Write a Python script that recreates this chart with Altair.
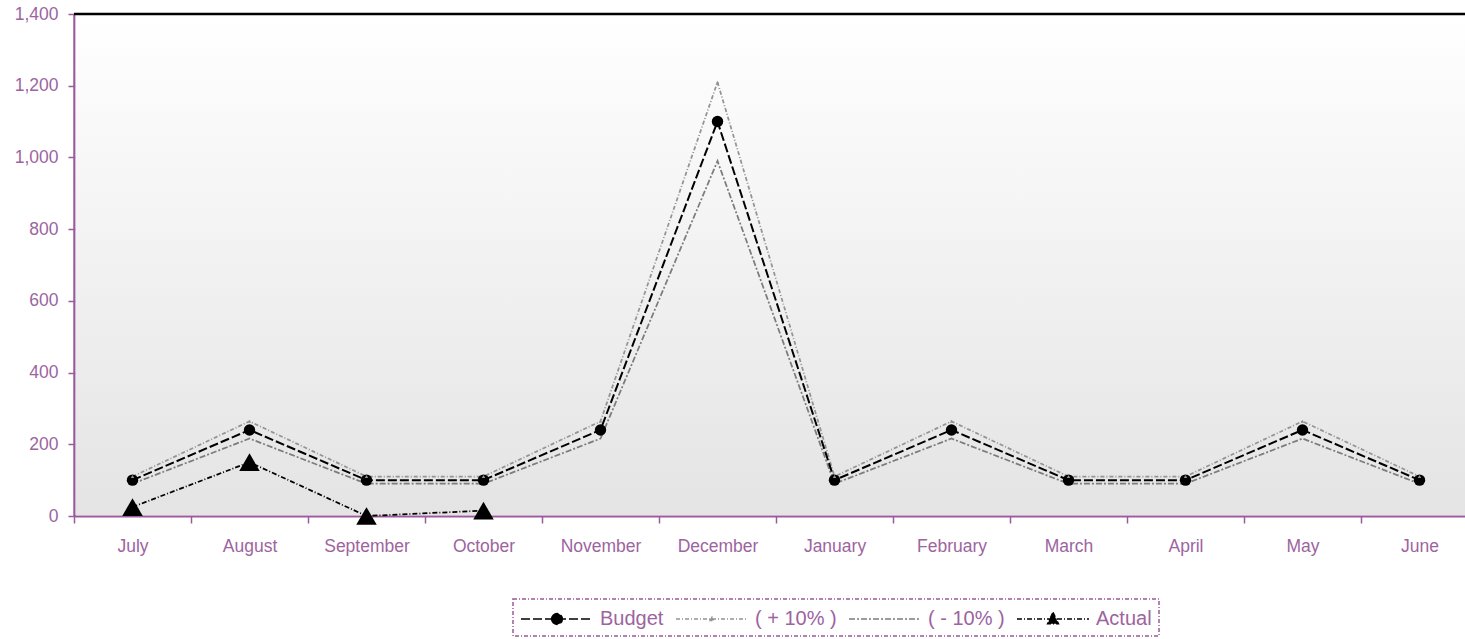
import altair as alt
import pandas as pd

months = ["July", "August", "September", "October", "November", "December",
          "January", "February", "March", "April", "May", "June"]
budget = [100, 240, 100, 100, 240, 1100, 100, 240, 100, 100, 240, 100]
plus10 = [110, 264, 110, 110, 264, 1210, 110, 264, 110, 110, 264, 110]
minus10 = [90, 216, 90, 90, 216, 990, 90, 216, 90, 90, 216, 90]
actual_months = ["July", "August", "September", "October"]
actual = [25, 150, 0, 15]

series_names = ["Budget", "( + 10% )", "( - 10% )", "Actual"]
series_colors = ["#000000", "#949494", "#7c7c7c", "#000000"]
series_dash = [[9, 3], [4, 2, 1, 2], [6, 2, 2, 2], [5, 2, 1, 2]]
series_width = [2, 1.75, 1.75, 1.75]

PURPLE = "#9b5a9b"
LABEL = "#9d64a0"
W, H = 1391, 502

rows = []
for name, vals, ms in [("Budget", budget, months), ("( + 10% )", plus10, months),
                       ("( - 10% )", minus10, months), ("Actual", actual, actual_months)]:
    for m, v in zip(ms, vals):
        rows.append({"month": m, "value": v, "series": name})
df = pd.DataFrame(rows)

xenc = alt.X("month:N", sort=months, scale=alt.Scale(range=[0, 1404]),
             axis=alt.Axis(title=None, labelAngle=0, domainColor=PURPLE, domainWidth=2,
                           tickColor=PURPLE, tickWidth=1.5, tickSize=7, tickBand="extent",
                           labelColor=LABEL, labelFontSize=17.5, labelFont="Arial",
                           labelPadding=14, grid=False, zindex=0))
yenc = alt.Y("value:Q", scale=alt.Scale(domain=[0, 1400], nice=False),
             axis=alt.Axis(title=None, values=list(range(0, 1401, 200)), format=",.0f",
                           domainColor=PURPLE, domainWidth=2.5, tickColor=PURPLE, tickSize=6,
                           tickWidth=1.5, labelColor=LABEL, labelFontSize=17.5, labelFont="Arial",
                           labelPadding=10, grid=True, gridColor=PURPLE, gridWidth=1, zindex=0))

bg = alt.Chart(pd.DataFrame({"a": [0]})).mark_rect(
    color=alt.Gradient(gradient="linear", x1=0, x2=0, y1=0, y2=1,
                       stops=[alt.GradientStop(color="#ffffff", offset=0),
                              alt.GradientStop(color="#e4e4e4", offset=1)])
).encode(x=alt.value(1.5), x2=alt.value(W), y=alt.value(0), y2=alt.value(H - 1))

base = alt.Chart(df)
layers = [bg]
axis_layer = base.mark_line(opacity=0).encode(x=xenc, y=yenc)
layers.append(axis_layer)

top_rule = alt.Chart(pd.DataFrame({"v": [1400]})).mark_rule(color="black", strokeWidth=2.5).encode(
    y=alt.Y("v:Q"))
layers.append(top_rule)

order = [1, 2, 0, 3]
for i in order:
    name = series_names[i]
    sub = base.transform_filter(alt.datum.series == name)
    layers.append(sub.mark_line(color=series_colors[i], strokeDash=series_dash[i],
                                strokeWidth=series_width[i]).encode(
        x=alt.X("month:N", sort=months), y="value:Q"))
layers.append(base.transform_filter(alt.datum.series == "Budget").mark_point(
    filled=True, color="black", size=130, shape="circle", opacity=1).encode(
    x=alt.X("month:N", sort=months), y="value:Q"))
layers.append(base.transform_filter(alt.datum.series == "( + 10% )").mark_point(
    filled=True, color="#949494", size=12, shape="triangle-up", opacity=1).encode(
    x=alt.X("month:N", sort=months), y="value:Q"))
layers.append(base.transform_filter(alt.datum.series == "Actual").mark_point(
    filled=True, color="black", size=420, shape="triangle-up", opacity=1).encode(
    x=alt.X("month:N", sort=months), y="value:Q"))

paths = [
    "M-3,0H3M-0.45,0A0.45,0.45,0,1,0,0.45,0A0.45,0.45,0,1,0,-0.45,0Z",
    "M-3,0H3M-0.15,0.12L0,-0.15L0.15,0.12Z",
    "M-3,0H3",
    "M-3,0H3M0,-0.55L0.45,0.4L-0.45,0.4Z",
]
leg = alt.Legend(title=None, orient="none", legendX=439, legendY=585, direction="horizontal",
                 columns=4, symbolSize=576, symbolOffset=24, labelOffset=30,
                 labelFontSize=20, labelFont="Arial", labelColor=LABEL, columnPadding=9,
                 symbolStrokeWidth=1.5, strokeColor=PURPLE, padding=7)
legend_layer = base.transform_filter("false").mark_point(opacity=1, strokeWidth=1.5).encode(
    shape=alt.Shape("series:N", scale=alt.Scale(domain=series_names, range=paths), legend=leg),
    fill=alt.Fill("series:N", scale=alt.Scale(domain=series_names, range=series_colors), legend=leg),
    stroke=alt.Stroke("series:N", scale=alt.Scale(domain=series_names, range=series_colors), legend=leg),
    strokeDash=alt.StrokeDash("series:N", scale=alt.Scale(domain=series_names, range=series_dash), legend=leg),
)
layers.append(legend_layer)

chart = alt.layer(*layers).properties(
    width=W, height=H,
    autosize=alt.AutoSizeParams(type="none"),
    padding={"left": 74, "top": 14, "right": 0, "bottom": 639 - 14 - H},
).configure_view(stroke=None).configure_legend(strokeDash=[4, 2, 1, 2], strokeWidth=1.5)

chart.save("out.html", embed_options={"renderer": "svg", "actions": False})
